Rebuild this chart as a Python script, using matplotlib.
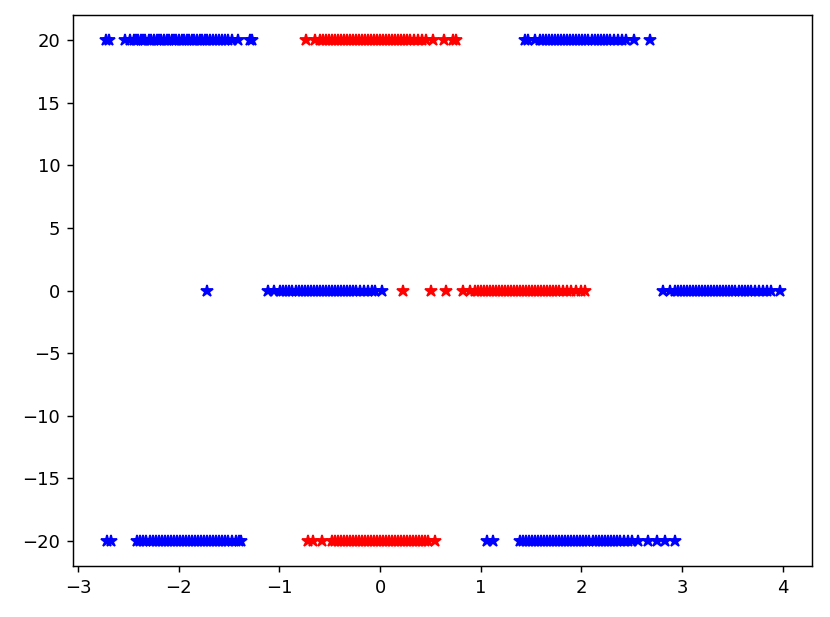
import matplotlib
matplotlib.use("Agg")
import matplotlib.pyplot as plt

# x positions of points, grouped by level (y) and colour
blue_top_x = [-2.72, -2.69, -2.53, -2.48, -2.44, -2.42, -2.40, -2.37, -2.35, -2.33, -2.30, -2.28,
              -2.25, -2.22, -2.20, -2.18, -2.15, -2.12, -2.10, -2.07, -2.05, -2.03, -2.00, -1.97,
              -1.95, -1.92, -1.90, -1.87, -1.85, -1.82, -1.79, -1.77, -1.74, -1.72, -1.69, -1.66,
              -1.63, -1.60, -1.57, -1.54, -1.51, -1.47, -1.41, -1.29, -1.27,
              1.44, 1.47, 1.54, 1.59, 1.62, 1.65, 1.68, 1.71, 1.74, 1.77, 1.80, 1.83, 1.86, 1.89,
              1.92, 1.95, 1.98, 2.01, 2.04, 2.07, 2.10, 2.13, 2.16, 2.19, 2.22, 2.25, 2.28, 2.32,
              2.36, 2.40, 2.44, 2.52, 2.68]
red_top_x = [-0.74, -0.65, -0.60, -0.57, -0.54, -0.51, -0.48, -0.45, -0.42, -0.39, -0.36, -0.33,
             -0.30, -0.27, -0.24, -0.21, -0.18, -0.15, -0.12, -0.09, -0.06, -0.03, 0.00, 0.03,
             0.06, 0.09, 0.12, 0.15, 0.18, 0.21, 0.24, 0.27, 0.30, 0.34, 0.38, 0.42, 0.46,
             0.53, 0.63, 0.72, 0.75]

blue_mid_x = [-1.72, -1.11, -1.05, -0.99, -0.96, -0.93, -0.90, -0.87, -0.84, -0.81, -0.78, -0.75,
              -0.72, -0.69, -0.66, -0.63, -0.60, -0.57, -0.54, -0.51, -0.48, -0.45, -0.42, -0.39,
              -0.36, -0.33, -0.30, -0.27, -0.24, -0.20, -0.16, -0.12, -0.08, -0.05, 0.02,
              2.81, 2.88, 2.93, 2.96, 2.99, 3.02, 3.05, 3.08, 3.11, 3.14, 3.17, 3.20, 3.23, 3.26,
              3.29, 3.32, 3.35, 3.38, 3.41, 3.44, 3.47, 3.50, 3.53, 3.56, 3.59, 3.62, 3.65, 3.68,
              3.72, 3.76, 3.80, 3.84, 3.88, 3.97]
red_mid_x = [0.23, 0.51, 0.65, 0.82, 0.89, 0.94, 0.97, 1.00, 1.03, 1.06, 1.09, 1.12, 1.15, 1.18,
             1.21, 1.24, 1.27, 1.30, 1.33, 1.36, 1.39, 1.42, 1.45, 1.48, 1.51, 1.54, 1.57, 1.60,
             1.63, 1.66, 1.69, 1.72, 1.75, 1.78, 1.82, 1.86, 1.90, 1.95, 2.00, 2.04]

blue_bot_x = [-2.71, -2.67, -2.41, -2.38, -2.35, -2.32, -2.29, -2.26, -2.23, -2.20, -2.17, -2.14,
              -2.11, -2.08, -2.05, -2.02, -1.99, -1.96, -1.93, -1.90, -1.87, -1.84, -1.81, -1.78,
              -1.75, -1.72, -1.69, -1.66, -1.63, -1.60, -1.57, -1.54, -1.51, -1.47, -1.43, -1.40,
              -1.38,
              1.06, 1.12, 1.39, 1.42, 1.45, 1.48, 1.51, 1.54, 1.57, 1.60, 1.63, 1.66, 1.69, 1.72,
              1.75, 1.78, 1.81, 1.84, 1.87, 1.90, 1.93, 1.96, 1.99, 2.02, 2.05, 2.08, 2.11, 2.14,
              2.17, 2.20, 2.23, 2.26, 2.29, 2.32, 2.35, 2.38, 2.42, 2.46, 2.50, 2.56, 2.66, 2.75,
              2.83, 2.93]
red_bot_x = [-0.72, -0.67, -0.58, -0.48, -0.45, -0.42, -0.39, -0.36, -0.33, -0.30, -0.27, -0.24,
             -0.21, -0.18, -0.15, -0.12, -0.09, -0.06, -0.03, 0.00, 0.03, 0.06, 0.09, 0.12,
             0.15, 0.18, 0.21, 0.24, 0.27, 0.30, 0.33, 0.36, 0.39, 0.42, 0.45, 0.48, 0.55]

levels = [20, 0, -20]

fig = plt.figure(figsize=(8.3 / 1.3, 6.17 / 1.3), dpi=130)
ax = fig.add_axes([73 / 830, 1 - 566 / 617, (812 - 73) / 830, (566 - 15) / 617])

ms = 7
ax.plot(blue_top_x, [levels[0]] * len(blue_top_x), 'b*', ms=ms)
ax.plot(red_top_x, [levels[0]] * len(red_top_x), 'r*', ms=ms)
ax.plot(blue_mid_x, [levels[1]] * len(blue_mid_x), 'b*', ms=ms)
ax.plot(red_mid_x, [levels[1]] * len(red_mid_x), 'r*', ms=ms)
ax.plot(blue_bot_x, [levels[2]] * len(blue_bot_x), 'b*', ms=ms)
ax.plot(red_bot_x, [levels[2]] * len(red_bot_x), 'r*', ms=ms)

ax.set_xlim(-3.05, 4.29)
ax.set_ylim(-22, 22)

fig.savefig("out.png", dpi=130)
